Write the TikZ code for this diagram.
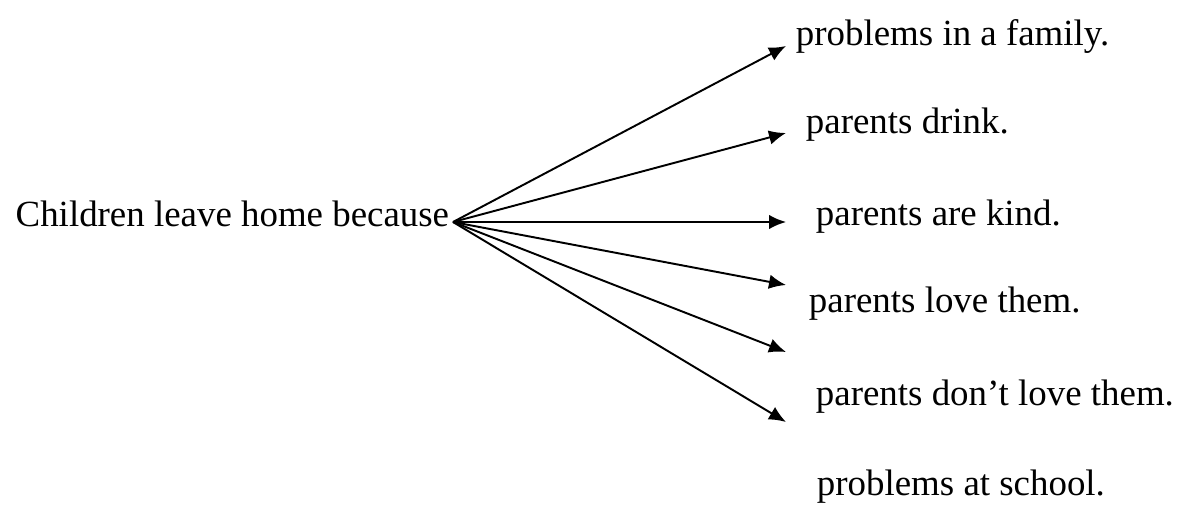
\documentclass[tikz,border=0pt]{standalone}
\usepackage{fontspec}
\setmainfont{Liberation Serif}
\usetikzlibrary{arrows.meta}
\tikzset{
  >={Latex[length=3.4mm,width=2.9mm]},
}
\tikzstyle{reason}=[anchor=base west,inner sep=0pt]
\tikzstyle{every node}=[font=\fontsize{21}{25}\selectfont]

\begin{document}
\begin{tikzpicture}[x=.02cm,y=-.02cm,line width=1.1pt]
    \useasboundingbox (0,0) rectangle (1180,504);
    \node[anchor=base east,inner sep=0pt] (kids) at (450,226) {Children leave home because};
    \coordinate (src) at (453,222);
    \node[reason] (r1) at (795,45) {problems in a family.};
    \node[reason] (r2) at (805,133) {parents drink.};
    \node[reason] (r3) at (815,225) {parents are kind.};
    \node[reason] (r4) at (808,312) {parents love them.};
    \node[reason] (r5) at (815,405) {parents don’t love them.};
    \node[reason] (r6) at (816,495) {problems at school.};
    \foreach \n/\y in {1/46,2/133,3/222,4/285,5/352,6/422}
      \coordinate (t\n) at (786,\y);
    \foreach \n in {1,...,6}
      \draw[->] (src) -- (t\n);
  \end{tikzpicture}
\end{document}
